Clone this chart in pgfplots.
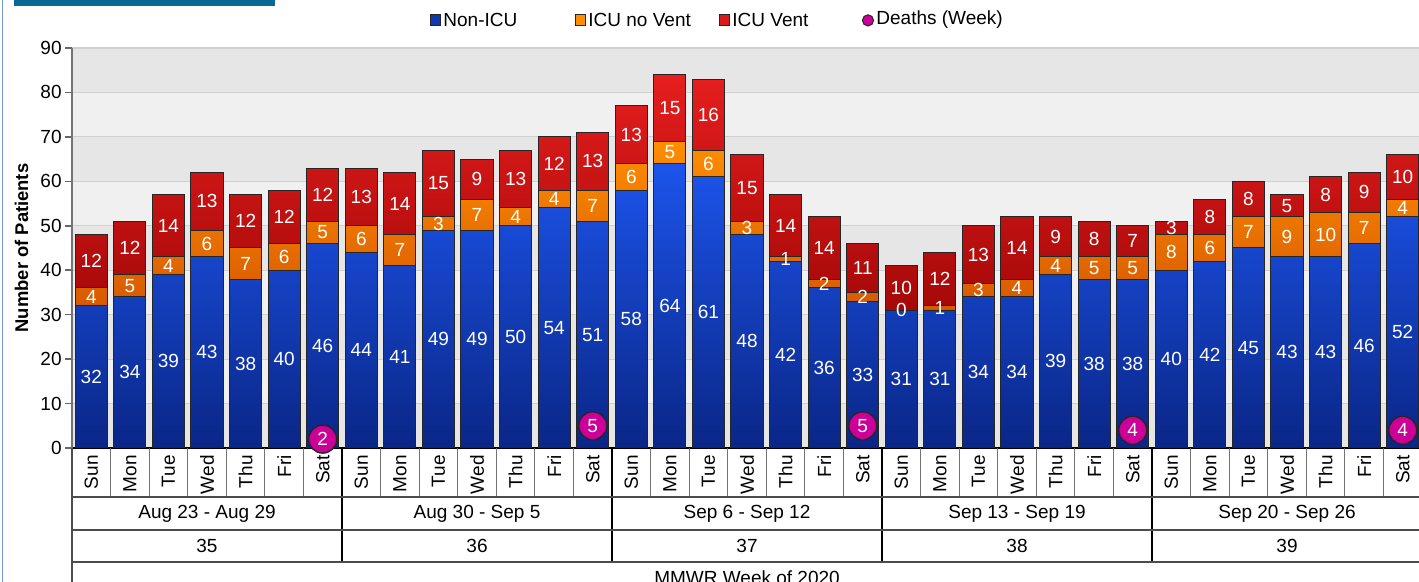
\documentclass[border=0pt]{standalone}
\usepackage{pgfplots}
\pgfplotsset{compat=1.18}
\usepackage{pgfplotstable}
\usepackage{fontspec}
\setmainfont{Liberation Sans}
\definecolor{blueT}{RGB}{28,84,235}
\definecolor{blueB}{RGB}{10,38,135}
\definecolor{orT}{RGB}{255,142,0}
\definecolor{orB}{RGB}{214,88,0}
\definecolor{redT}{RGB}{230,30,30}
\definecolor{redB}{RGB}{165,8,8}
\definecolor{deathC}{RGB}{204,0,153}
\definecolor{bandD}{RGB}{230,230,230}
\definecolor{bandL}{RGB}{240,240,240}
\definecolor{gridC}{RGB}{208,208,208}
\definecolor{headC}{RGB}{8,104,150}
\definecolor{frameC}{RGB}{110,155,210}

\pgfplotstableread{
x b o r
0 32 4 12
1 34 5 12
2 39 4 14
3 43 6 13
4 38 7 12
5 40 6 12
6 46 5 12
7 44 6 13
8 41 7 14
9 49 3 15
10 49 7 9
11 50 4 13
12 54 4 12
13 51 7 13
14 58 6 13
15 64 5 15
16 61 6 16
17 48 3 15
18 42 1 14
19 36 2 14
20 33 2 11
21 31 0 10
22 31 1 12
23 34 3 13
24 34 4 14
25 39 4 9
26 38 5 8
27 38 5 7
28 40 8 3
29 42 6 8
30 45 7 8
31 43 9 5
32 43 10 8
33 46 7 9
34 52 4 10
}\data

\newcommand{\fs}{\fontsize{9.5}{11}\selectfont}

\begin{document}
\begin{tikzpicture}[font=\fs]
\useasboundingbox (0,0) rectangle (709.5pt,291pt);
% frame and header
\draw[frameC, line width=0.8pt] (1.2pt,0pt) -- (1.2pt,291pt);
\fill[headC] (7pt,288.2pt) rectangle (137.5pt,292pt);
% background bands
\fill[bandL] (36pt,67pt) rectangle (712pt,267pt);
\foreach \v in {0,20,40,60,80}{
  \fill[bandD] (36pt,{67pt+\v*2.22222pt}) rectangle (712pt,{67pt+(\v+10)*2.22222pt});
}
\begin{axis}[
  at={(36pt,67pt)}, anchor=south west,
  scale only axis, width=675pt, height=200pt,
  xmin=-0.5, xmax=34.5, ymin=0, ymax=90,
  ybar stacked, bar width=0.83,
  ytick={0,10,...,90},
  xtick={0,...,34},
  xticklabels={Sun,Mon,Tue,Wed,Thu,Fri,Sat,Sun,Mon,Tue,Wed,Thu,Fri,Sat,Sun,Mon,Tue,Wed,Thu,Fri,Sat,Sun,Mon,Tue,Wed,Thu,Fri,Sat,Sun,Mon,Tue,Wed,Thu,Fri,Sat},
  xticklabel style={rotate=90, anchor=east, font=\fs, inner sep=0pt},
  x tick style={draw=none},
  y tick style={draw=black!60, line width=0.8pt},
  major tick length=3.5pt,
  tick align=outside,
  yticklabel style={font=\fs, inner sep=0pt, xshift=-1.5pt},
  ymajorgrids, grid style={gridC, line width=0.6pt},
  axis x line*=bottom, axis y line*=left,
  x axis line style={black, line width=0.6pt},
  y axis line style={black!55, line width=1pt},
  /pgf/number format/assume math mode=true,
  clip=false,
]
\addplot[top color=blueT, bottom color=blueB, draw=black!85, line width=0.5pt] table[x=x,y=b]{\data};
\addplot[top color=orT, bottom color=orB, draw=black!85, line width=0.5pt] table[x=x,y=o]{\data};
\addplot[top color=redT, bottom color=redB, draw=black!85, line width=0.5pt] table[x=x,y=r]{\data};
\end{axis}
\begin{axis}[
  at={(36pt,67pt)}, anchor=south west,
  scale only axis, width=675pt, height=200pt,
  xmin=-0.5, xmax=34.5, ymin=0, ymax=90,
  hide axis, clip=false,
  /pgf/number format/assume math mode=true,
  nodes near coords,
  every node near coord/.append style={anchor=center, text=white, font=\fs, inner sep=0pt},
]
\addplot[only marks, mark=*, mark size=0pt, mark options={draw=none,fill=none}, point meta=explicit] table[x=x, y expr=\thisrow{b}/2, meta=b]{\data};
\addplot[only marks, mark=*, mark size=0pt, mark options={draw=none,fill=none}, point meta=explicit] table[x=x, y expr=\thisrow{b}+\thisrow{o}/2, meta=o]{\data};
\addplot[only marks, mark=*, mark size=0pt, mark options={draw=none,fill=none}, point meta=explicit] table[x=x, y expr=\thisrow{b}+\thisrow{o}+\thisrow{r}/2, meta=r]{\data};
\addplot[only marks, mark=*, mark size=7pt, mark options={fill=deathC, draw=black!85, line width=0.7pt}, point meta=y] coordinates {(6,2) (13,5) (20,5) (27,4) (34,4)};
\end{axis}
% table below
\foreach \i in {1,...,34}{
  \draw[black!55, line width=0.6pt] ({36pt+\i*19.2857pt},67pt) -- ({36pt+\i*19.2857pt},42.5pt);
}
\foreach \i in {7,14,21,28}{
  \draw[black, line width=0.6pt] ({36pt+\i*19.2857pt},67pt) -- ({36pt+\i*19.2857pt},10pt);
}
\draw[black!70, line width=0.8pt] (36pt,42.5pt) -- (712pt,42.5pt);
\draw[black!70, line width=0.8pt] (36pt,26pt) -- (712pt,26pt);
\draw[black!70, line width=0.8pt] (36pt,10pt) -- (712pt,10pt);
\draw[black!70, line width=1pt] (36pt,67pt) -- (36pt,0pt);
\foreach \w/\t/\n in {0/Aug 23 - Aug 29/35,1/Aug 30 - Sep 5/36,2/Sep 6 - Sep 12/37,3/Sep 13 - Sep 19/38,4/Sep 20 - Sep 26/39}{
  \node at ({36pt+(7*\w+3.5)*19.2857pt},34.3pt) {\t};
  \node at ({36pt+(7*\w+3.5)*19.2857pt},18pt) {\n};
}
\node at (373.5pt,2.3pt) {MMWR Week of 2020};
% y label
\node[rotate=90, font=\fontsize{9.2}{10}\selectfont\bfseries] at (10.8pt,167pt) {Number of Patients};
% legend
\filldraw[fill=blueB!60!blueT, draw=black!85, line width=0.5pt] (215pt,278pt) rectangle (220pt,283.5pt);
\node[anchor=west, inner sep=0pt] at (221.5pt,281pt) {Non-ICU};
\filldraw[fill=orT, draw=black!85, line width=0.5pt] (287.5pt,278pt) rectangle (292.5pt,283.5pt);
\node[anchor=west, inner sep=0pt] at (294pt,281pt) {ICU no Vent};
\filldraw[fill=redT!80!redB, draw=black!85, line width=0.5pt] (359.5pt,278pt) rectangle (364.5pt,283.5pt);
\node[anchor=west, inner sep=0pt] at (366pt,281pt) {ICU Vent};
\filldraw[fill=deathC, draw=black!85, line width=0.5pt] (434pt,280.8pt) circle (2.8pt);
\node[anchor=west, inner sep=0pt] at (438pt,281pt) {Deaths (Week)};
\end{tikzpicture}
\end{document}
